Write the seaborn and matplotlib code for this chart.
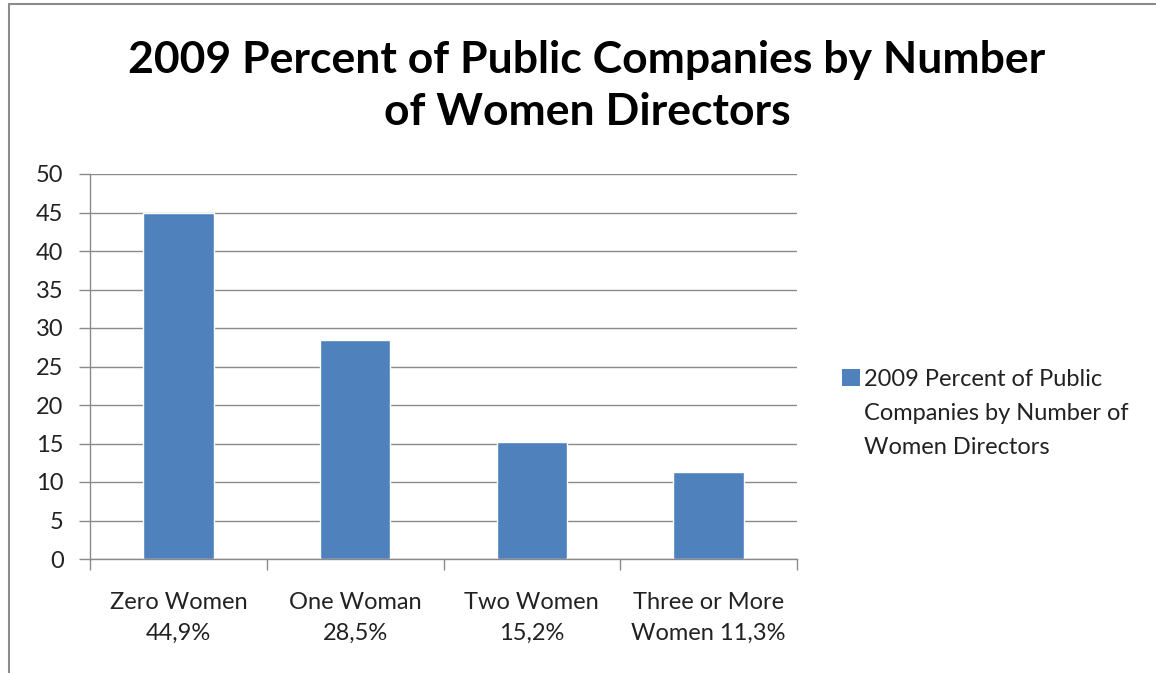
import matplotlib
matplotlib.use("Agg")
import matplotlib.pyplot as plt
from matplotlib.lines import Line2D
from matplotlib.patches import Rectangle
import seaborn as sns
import pandas as pd

categories = ["Zero Women\n44,9%", "One Woman\n28,5%", "Two Women\n15,2%", "Three or More\nWomen 11,3%"]
values = [44.9, 28.5, 15.2, 11.3]
series_lines = ["2009 Percent of Public", "Companies by Number of", "Women Directors"]
title = "2009 Percent of Public Companies by Number\nof Women Directors"
yticks = [0, 5, 10, 15, 20, 25, 30, 35, 40, 45, 50]

sns.set_theme(style="white")
plt.rcParams["font.family"] = ["Lato", "DejaVu Sans"]

bar_color = "#4F81BD"
df = pd.DataFrame({"category": categories, "value": values, "series": " ".join(series_lines)})

W, H, DPI = 1156, 673, 100
fig = plt.figure(figsize=(W / DPI, H / DPI), dpi=DPI)
fig.patch.set_facecolor("white")

ax = fig.add_axes([90 / W, 1 - 559 / H, (797 - 90) / W, (559 - 174) / H])

sns.barplot(data=df, x="category", y="value", hue="series", palette=[bar_color],
            width=0.4, ax=ax, legend=False, saturation=1)

grid_c = "#8a8a8a"
text_c = "#222222"
ax.set_ylim(0, 50)
ax.set_xlim(-0.5, len(categories) - 0.5)
ax.set_yticks(yticks)
ax.set_yticklabels([str(v) for v in yticks])
ax.yaxis.grid(True, color=grid_c, linewidth=1)
ax.set_axisbelow(True)
ax.set_xlabel("")
ax.set_ylabel("")

for side in ["top", "right"]:
    ax.spines[side].set_visible(False)
for side in ["left", "bottom"]:
    ax.spines[side].set_color(grid_c)
    ax.spines[side].set_linewidth(1)

ax.tick_params(axis="y", which="major", direction="out", length=8, width=1,
               color=grid_c, labelsize=17, labelcolor=text_c, pad=11, left=True)
ax.tick_params(axis="x", which="major", length=0, labelsize=17,
               labelcolor=text_c, pad=24)
ax.set_xticks([i - 0.5 for i in range(len(categories) + 1)], minor=True)
ax.tick_params(axis="x", which="minor", direction="out", length=8, width=1,
               color=grid_c, bottom=True)
for lbl in ax.get_xticklabels():
    lbl.set_linespacing(1.55)

# Legend: colour key beside the first line, the wrapped name continues below it
handles = [Rectangle((0, 0), 1, 1, facecolor=bar_color, edgecolor="none")]
handles += [Rectangle((0, 0), 1, 1, facecolor="none", edgecolor="none") for _ in series_lines[1:]]
leg = ax.legend(handles, series_lines, loc="upper left",
                bbox_to_anchor=((842 - 90) / (797 - 90), (559 - 369) / (559 - 174)),
                frameon=False, fontsize=17, handlelength=0.75, handleheight=0.75,
                handletextpad=0.2, labelspacing=0.55, borderaxespad=0, borderpad=0)
for t in leg.get_texts():
    t.set_color(text_c)

fig.text(587 / W, 1 - 86 / H, title, ha="center", va="center", fontsize=32,
         fontweight="bold", color="black", linespacing=1.38)

frame_c = "#8c8c8c"
fig.add_artist(Line2D([8.5 / W, 8.5 / W], [0, 1 - 3.5 / H], transform=fig.transFigure,
                      color=frame_c, linewidth=1.5))
fig.add_artist(Line2D([8.5 / W, 1], [1 - 3.5 / H, 1 - 3.5 / H], transform=fig.transFigure,
                      color=frame_c, linewidth=1.5))

fig.savefig("out.png", dpi=DPI, facecolor="white")
